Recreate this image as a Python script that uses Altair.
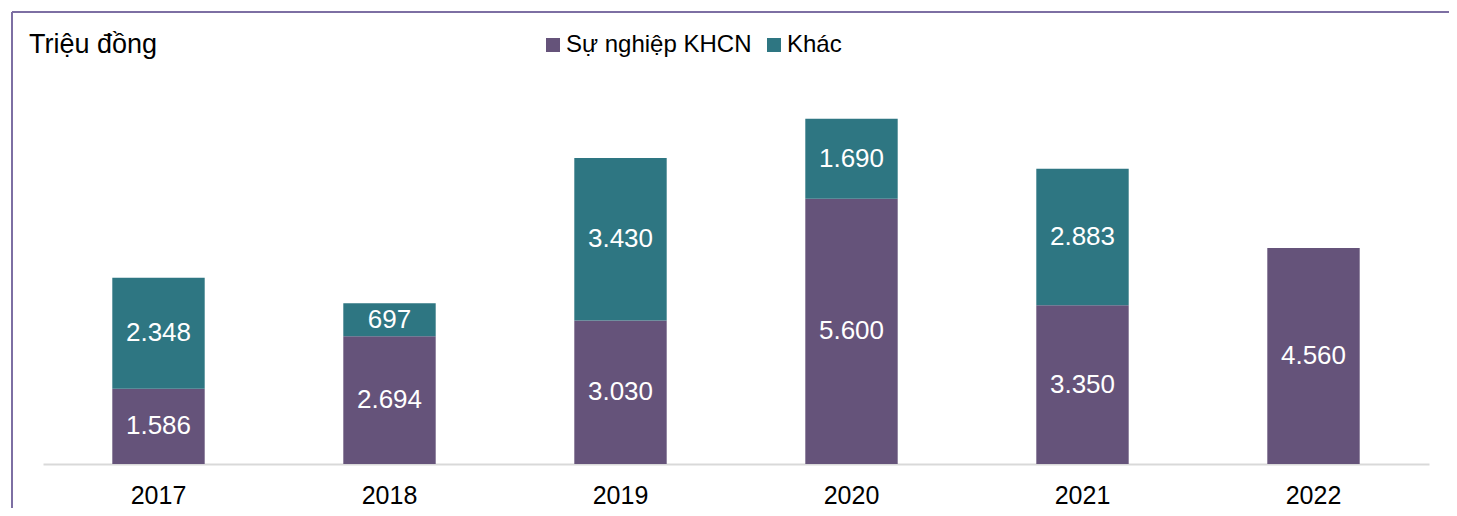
import altair as alt
import pandas as pd

years = ["2017", "2018", "2019", "2020", "2021", "2022"]
su_nghiep = [1586, 2694, 3030, 5600, 3350, 4560]
khac = [2348, 697, 3430, 1690, 2883, 0]
series = ["Sự nghiệp KHCN", "Khác"]
colors = ["#65537A", "#2E7682"]
y_title = "Triệu đồng"

rows = []
for i, y in enumerate(years):
    for j, (s, vals) in enumerate(zip(series, [su_nghiep, khac])):
        v = vals[i]
        rows.append({"year": y, "series": s, "idx": j, "value": v,
                     "label": f"{v:,}".replace(",", ".")})
df = pd.DataFrame(rows)

FONT = "Liberation Sans, Arial, Helvetica, sans-serif"

base = alt.Chart(df)

bars = base.mark_bar().encode(
    x=alt.X("year:N", sort=years,
            scale=alt.Scale(paddingInner=0.6, paddingOuter=0.3),
            axis=alt.Axis(title=None, labelAngle=0, ticks=False,
                          labelFontSize=25, labelColor="#000000",
                          labelFont=FONT, labelPadding=19,
                          domainColor="#D9D9D9", domainWidth=2, grid=False)),
    y=alt.Y("value:Q", stack="zero",
            scale=alt.Scale(domain=[0, 8000], nice=False),
            axis=None),
    color=alt.Color("series:N",
                    scale=alt.Scale(domain=series, range=colors),
                    legend=alt.Legend(title=None, orient="none",
                                      direction="horizontal",
                                      legendX=498, legendY=-52,
                                      symbolType="square", symbolSize=196,
                                      symbolStrokeWidth=0, symbolOpacity=1,
                                      labelFontSize=24, labelFont=FONT,
                                      labelColor="#000000", labelOffset=1,
                                      labelLimit=1000,
                                      columnPadding=10, padding=0)),
    order=alt.Order("idx:Q"),
)

labels = base.transform_filter("datum.value > 0").transform_stack(
    stack="value", as_=["v0", "v1"], groupby=["year"],
    sort=[alt.SortField("idx", order="ascending")]
).transform_calculate(
    mid="(datum.v0 + datum.v1) / 2"
).mark_text(color="white", fontSize=26, font=FONT, baseline="middle").encode(
    x=alt.X("year:N", sort=years),
    y=alt.Y("mid:Q"),
    text="label:N",
)

one = alt.Chart(pd.DataFrame({"t": [y_title]}))
title = one.mark_text(align="left", baseline="middle", fontSize=27,
                      font=FONT, color="#000000").encode(
    x=alt.value(-14), y=alt.value(-40), text="t:N")

border_left = one.mark_rule(color="#7D6FA3", strokeWidth=2).encode(
    x=alt.value(-31), y=alt.value(-73), y2=alt.value(600))
border_top = one.mark_rule(color="#7D6FA3", strokeWidth=2).encode(
    x=alt.value(-31), x2=alt.value(1600), y=alt.value(-73))

chart = alt.layer(bars, labels, title, border_left, border_top).properties(
    width=1386, height=379,
    autosize=alt.AutoSizeParams(type="none"),
    padding={"left": 35, "right": 20, "top": 77, "bottom": 44},
    background="white",
).configure_view(strokeWidth=0, stroke="transparent")

chart.save("out.html", embed_options={"renderer": "svg", "actions": False})
